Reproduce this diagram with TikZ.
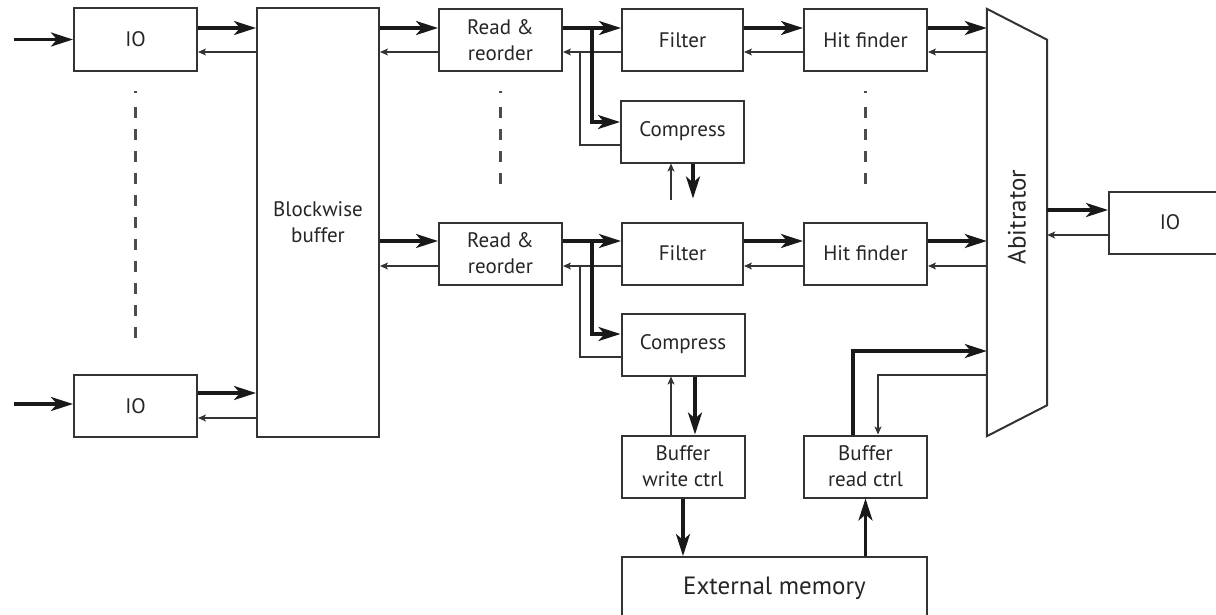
\documentclass[tikz,border=0pt]{standalone}
\usepackage{fontspec}
\setmainfont{PT Sans}
\usetikzlibrary{arrows.meta,calc}
\begin{document}
\begin{tikzpicture}[x=1pt,y=-1pt,
  box/.style={draw=black!80, line width=2pt, fill=white, inner sep=0pt, align=center,
    font=\fontsize{21}{26}\selectfont, text=black!85, minimum width=123pt, minimum height=62pt},
  lbl/.style={font=\fontsize{25}{30}\selectfont, text=black!85},
  big/.style={line width=3.4pt, draw=black!90, -{Stealth[length=22pt,width=14pt,inset=6pt]}},
  sml/.style={line width=1.4pt, draw=black!80, -{Stealth[length=8pt,width=7pt,inset=2pt]}},
  wire/.style={line width=1.4pt, draw=black!80},
  dots/.style={line width=2.2pt, draw=black!70}
]
\useasboundingbox (0,0) rectangle (1216,614);
\clip (0,0) rectangle (1216,614);

% boxes
\node[box, minimum height=63pt] (io1) at (135.5,39.5) {IO};
\node[box] (io2) at (135.5,406) {IO};
\node[box, minimum width=122pt, minimum height=429pt] (buf) at (318,222.5) {Blockwise\\buffer};
\node[box] (rr1) at (500.5,40) {Read \&\\reorder};
\node[box] (rr2) at (500.5,253.5) {Read \&\\reorder};
\node[box, minimum width=121pt] (f1) at (682.5,40) {Filter};
\node[box, minimum width=121pt] (f2) at (682.5,253.5) {Filter};
\node[box] (c1) at (682.5,131.5) {Compress};
\node[box] (c2) at (683,344.5) {Compress};
\node[box] (h1) at (865.5,40) {Hit finder};
\node[box] (h2) at (865.5,253.5) {Hit finder};
\node[box] (bw) at (683,466.5) {Buffer\\write ctrl};
\node[box] (br) at (865.5,466.5) {Buffer\\read ctrl};
\node[box, minimum width=305pt, font=\fontsize{25}{30}\selectfont, text height=18pt, text depth=5pt] (mem) at (774.5,588) {External memory};
\node[box, minimum width=122pt] (io3) at (1170,222.5) {IO};
\node[inner sep=0pt, minimum width=60pt, minimum height=427pt] (arb) at (1017,222.5) {};
\draw[line width=2pt, draw=black!80, fill=white] (arb.north west) -- ([yshift=-31pt]arb.north east)
  -- ([yshift=31pt]arb.south east) -- (arb.south west) -- cycle;
\node[lbl, rotate=90] (arblabel) at (1017,217) {Abitrator};

% dashed continuation marks
\draw[dots, shorten <=19pt, shorten >=20pt,
  dash pattern=on 2pt off 14pt on 11pt off 11pt on 11pt off 11pt on 11pt off 11pt on 11pt off 11pt
  on 11pt off 11pt on 11pt off 11pt on 11pt off 11pt on 11pt off 11pt on 11pt off 11pt on 11pt off 11pt
  on 11pt off 16pt on 2pt off 50pt] (io1) -- (io2);
\draw[dots, shorten <=19pt, shorten >=20pt,
  dash pattern=on 2pt off 14pt on 11pt off 11pt on 11pt off 11pt on 11pt off 11pt on 11pt off 18pt on 2pt off 50pt] (rr1) -- (rr2);
\draw[dots, shorten <=19pt, shorten >=21pt,
  dash pattern=on 2pt off 14pt on 11pt off 11pt on 11pt off 11pt on 11pt off 11pt on 11pt off 18pt on 2pt off 50pt] (h1) -- (h2);

% inputs
\coordinate (in1) at (14,39.5);
\coordinate (in2) at (14,404);
\draw[big] (in1) -- (in1 -| io1.west);
\draw[big] (in2) -- (in2 -| io2.west);

% IO <-> buffer
\draw[big] (io1.east |- 0,28) -- (buf.west |- 0,28);
\draw[sml] (buf.west |- 0,52) -- (io1.east |- 0,52);
\draw[big] (io2.east |- 0,393) -- (buf.west |- 0,393);
\draw[sml] (buf.west |- 0,418) -- (io2.east |- 0,418);

% buffer <-> read & reorder
\draw[big] (buf.east |- 0,28) -- (rr1.west |- 0,28);
\draw[sml] (rr1.west |- 0,52) -- (buf.east |- 0,52);
\draw[big] (buf.east |- 0,241) -- (rr2.west |- 0,241);
\draw[sml] (rr2.west |- 0,266) -- (buf.east |- 0,266);

% read & reorder <-> filter, compress
\draw[big] (rr1.east |- 0,28) -- (f1.west |- 0,28);
\draw[sml] (f1.west |- 0,52) -- (rr1.east |- 0,52);
\draw[big] (rr1.east |- 0,28) -- ++(29,0) |- (c1.west |- 0,122);
\draw[wire] (c1.west |- 0,145) -| ([xshift=17pt]rr1.east |- 0,52);

\draw[big] (rr2.east |- 0,241) -- (f2.west |- 0,241);
\draw[sml] (f2.west |- 0,266) -- (rr2.east |- 0,266);
\draw[big] (rr2.east |- 0,241) -- ++(29,0) |- (c2.west |- 0,334);
\draw[wire] (c2.west |- 0,357) -| ([xshift=17pt]rr2.east |- 0,266);

% compress stubs / buffer write
\draw[sml] ([xshift=-11.5pt]c1.south) ++(0,36) -- ([xshift=-11.5pt]c1.south);
\draw[big] ([xshift=10.5pt]c1.south) -- ++(0,35);
\draw[sml] (bw.north -| 671,0) -- (c2.south -| 671,0);
\draw[big] (c2.south -| 695,0) -- (bw.north -| 695,0);
\draw[big] (bw.south) -- (bw.south |- mem.north);
\draw[big] (mem.north -| br.south) -- (br.south);
\draw[big] (br.north -| 853,0) |- (arb.west |- 0,351);
\draw[sml] (arb.west |- 0,375) -| (br.north -| 878,0);

% filter <-> hit finder
\draw[big] (f1.east |- 0,28) -- (h1.west |- 0,28);
\draw[sml] (h1.west |- 0,52) -- (f1.east |- 0,52);
\draw[big] (f2.east |- 0,241) -- (h2.west |- 0,241);
\draw[sml] (h2.west |- 0,266) -- (f2.east |- 0,266);

% hit finder <-> arbitrator
\draw[big] (h1.east |- 0,28) -- (arb.west |- 0,28);
\draw[sml] (arb.west |- 0,52) -- (h1.east |- 0,52);
\draw[big] (h2.east |- 0,241) -- (arb.west |- 0,241);
\draw[sml] (arb.west |- 0,266) -- (h2.east |- 0,266);

% arbitrator <-> IO
\draw[big] (arb.east |- 0,210) -- (io3.west |- 0,210);
\draw[sml] (io3.west |- 0,235) -- (arb.east |- 0,235);
\end{tikzpicture}
\end{document}
